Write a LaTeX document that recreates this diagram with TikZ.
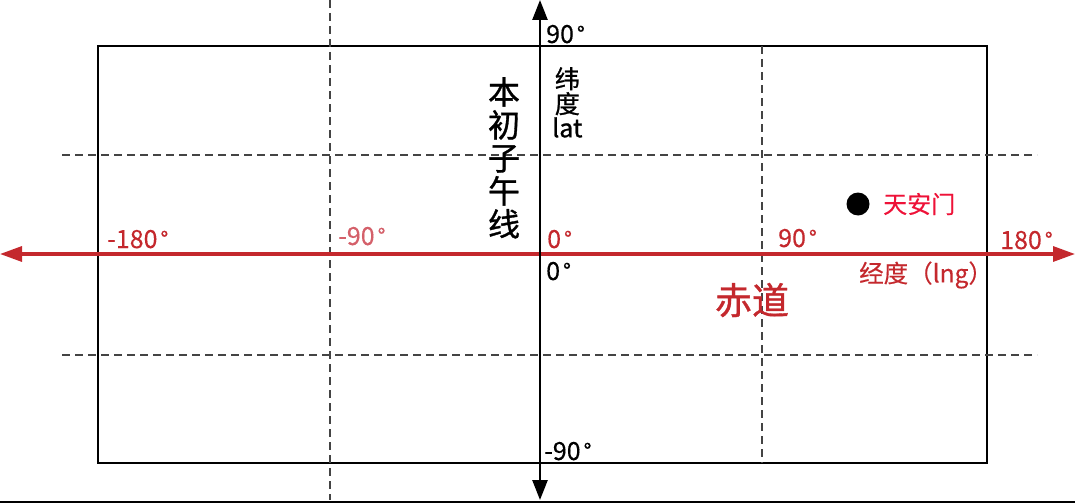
\documentclass[tikz,border=0pt]{standalone}
\usepackage{fontspec}
\setmainfont{Noto Sans CJK SC}[FakeBold=0.3]
\newfontfamily\medfont{Noto Sans CJK SC}[FakeBold=1.0]
\usetikzlibrary{arrows.meta}
\definecolor{axred}{HTML}{C4282D}
\definecolor{pinkred}{HTML}{D4606A}
\definecolor{brightred}{HTML}{EE1238}
\definecolor{dashgray}{HTML}{444444}
\newcommand{\dg}{\hspace{3pt}\raisebox{1pt}{\scalebox{0.85}{°}}}
\begin{document}
\begin{tikzpicture}[x=1pt,y=-1pt,
  lbl/.style={inner sep=0pt, anchor=base west, font=\fontsize{25}{27}\selectfont},
  cjk/.style={inner sep=0pt, font=\medfont\fontsize{25}{26}\selectfont},
  gridline/.style={draw=dashgray, line width=1.2pt, dash pattern=on 8pt off 5pt},
  vaxis/.style={line width=2.6pt, {Triangle[length=20pt,width=15pt]}-{Triangle[length=20pt,width=15pt]}},
  haxis/.style={draw=axred, line width=3.2pt, {Triangle[length=22pt,width=15pt]}-{Triangle[length=22pt,width=15pt]}},
]
\useasboundingbox (0,0) rectangle (1075,503);

% frame
\node[draw, line width=2.3pt, minimum width=889pt, minimum height=417pt, inner sep=0pt] (frame) at (542.5,254.5) {};

% grid coordinates
\coordinate (gA1) at (330,0);   \coordinate (gA2) at (330,500);
\coordinate (gB1) at (762,46);  \coordinate (gB2) at (762,463);
\coordinate (gC1) at (62,155);  \coordinate (gC2) at (1037,155);
\coordinate (gD1) at (62,355);  \coordinate (gD2) at (1037,355);
\draw[gridline] (gA1) -- (gA2);
\draw[gridline] (gB1) -- (gB2);
\draw[gridline] (gC1) -- (gC2);
\draw[gridline] (gD1) -- (gD2);

% bottom border
\coordinate (bL) at (0,501.5); \coordinate (bR) at (1075,501.5);
\draw[line width=2pt] (bL) -- (bR);

% axes
\coordinate (vT) at (540,0);  \coordinate (vB) at (540,500);
\coordinate (hL) at (0,254);  \coordinate (hR) at (1075,254);
\draw[haxis] (hL) -- (hR);
\draw[vaxis] (vT) -- (vB);

% black labels
\node[lbl] (lat90) at (546,43) {90\dg};
\node[lbl] (lat0) at (546,280) {0\dg};
\node[lbl] (latm90) at (544,460) {-90\dg};
\node[cjk, anchor=north west, align=center] (latname) at (552,67) {纬\\[-1pt]度\\[-2pt]lat};
\node[inner sep=0pt, anchor=north, align=center, font=\medfont\fontsize{32}{33}\selectfont] (meridian) at (504,77) {本\\初\\子\\午\\线};

% red labels
\node[lbl, text=axred] (lngm180) at (107,248) {-180\dg};
\node[lbl, text=pinkred] (lngm90) at (338,245) {-90\dg};
\node[lbl, text=axred] (lng0) at (547,248) {0\dg};
\node[lbl, text=axred] (lng90) at (778,247) {90\dg};
\node[lbl, text=axred] (lng180) at (1000,249) {180\dg};
\node[inner sep=0pt, anchor=west, text=axred, font=\fontsize{24.5}{26}\selectfont] (lngname) at (859,275) {经度（lng）};
\node[inner sep=0pt, text=axred, font=\medfont\fontsize{37}{39}\selectfont] (equator) at (752,300) {赤道};

% Tiananmen
\node[circle, fill=black, minimum size=23pt, inner sep=0pt] (tam) at (858,204) {};
\node[inner sep=0pt, anchor=west, text=brightred, font=\fontsize{24}{25}\selectfont] (tamlbl) at (883,204) {天安门};
\end{tikzpicture}
\end{document}
